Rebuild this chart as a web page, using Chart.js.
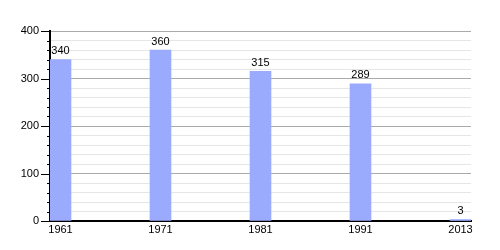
<!DOCTYPE html>
<html>
<head>
<meta charset="utf-8">
<script src="https://cdn.jsdelivr.net/npm/chart.js@4"></script>
<style>
    html, body { margin: 0; padding: 0; background: #fff; }
    #wrap { width: 500px; height: 250px; }
</style>
</head>
<body>
<div id="wrap"><canvas id="popChart"></canvas></div>
<script>
// Data
const years = ['1961', '1971', '1981', '1991', '2013'];
const population = [340, 360, 315, 289, 3];
const yTicks = [0, 100, 200, 300, 400];

// Bar value labels
const valueLabels = {
    id: 'valueLabels',
    afterDatasetsDraw(chart) {
        const c = chart.ctx;
        const meta = chart.getDatasetMeta(0);
        c.save();
        c.font = '11px "Liberation Sans", Arial, sans-serif';
        c.fillStyle = '#000';
        c.textAlign = 'center';
        c.textBaseline = 'bottom';
        meta.data.forEach((bar, i) => {
            c.fillText(String(population[i]), bar.x, bar.y - 3);
        });
        c.restore();
    }
};

// Y axis tick marks, long on the hundreds, short in between
const yTickMarks = {
    id: 'yTickMarks',
    afterDraw(chart) {
        const y = chart.scales.y;
        const c = chart.ctx;
        c.save();
        c.strokeStyle = '#000';
        c.lineWidth = 1;
        y.ticks.forEach(t => {
            const py = Math.round(y.getPixelForValue(t.value)) + 0.5;
            const len = t.value % 100 === 0 ? 9 : 3;
            c.beginPath();
            c.moveTo(y.right - len, py);
            c.lineTo(y.right, py);
            c.stroke();
        });
        c.restore();
    }
};

const ctx = document.getElementById('popChart').getContext('2d');
const popChart = new Chart(ctx, {
    type: 'bar',
    data: {
        datasets: [{
            data: population.map((v, i) => ({ x: i, y: v })),
            backgroundColor: '#9aabfd',
            borderWidth: 0,
            barThickness: 21
        }]
    },
    options: {
        responsive: true,
        maintainAspectRatio: false,
        animation: false,
        layout: { padding: { top: 31, right: 29, left: 0, bottom: 0 } },
        plugins: {
            legend: { display: false },
            tooltip: { enabled: false }
        },
        scales: {
            x: {
                type: 'linear',
                offset: false,
                min: -0.105,
                max: 4.105,
                afterBuildTicks: scale => {
                    scale.ticks = years.map((_, i) => ({ value: i }));
                },
                afterFit: scale => { scale.height = 29; },
                grid: { display: false, drawTicks: false },
                border: { color: '#000', width: 2 },
                ticks: {
                    color: '#000',
                    padding: 2,
                    maxRotation: 0,
                    autoSkip: false,
                    font: { family: '"Liberation Sans", Arial, sans-serif', size: 11 },
                    callback: v => years[v]
                }
            },
            y: {
                min: 0,
                max: 400,
                afterFit: scale => { scale.width = 50; },
                grid: {
                    drawTicks: false,
                    color: c => (c.tick && c.tick.value % 100 === 0) ? '#aaaaaa' : '#e6e6e6'
                },
                border: { color: '#000', width: 2 },
                ticks: {
                    stepSize: 20,
                    color: '#000',
                    padding: 11,
                    autoSkip: false,
                    font: { family: '"Liberation Sans", Arial, sans-serif', size: 11 },
                    callback: v => yTicks.includes(v) ? v : ''
                }
            }
        }
    },
    plugins: [valueLabels, yTickMarks]
});
</script>
</body>
</html>
